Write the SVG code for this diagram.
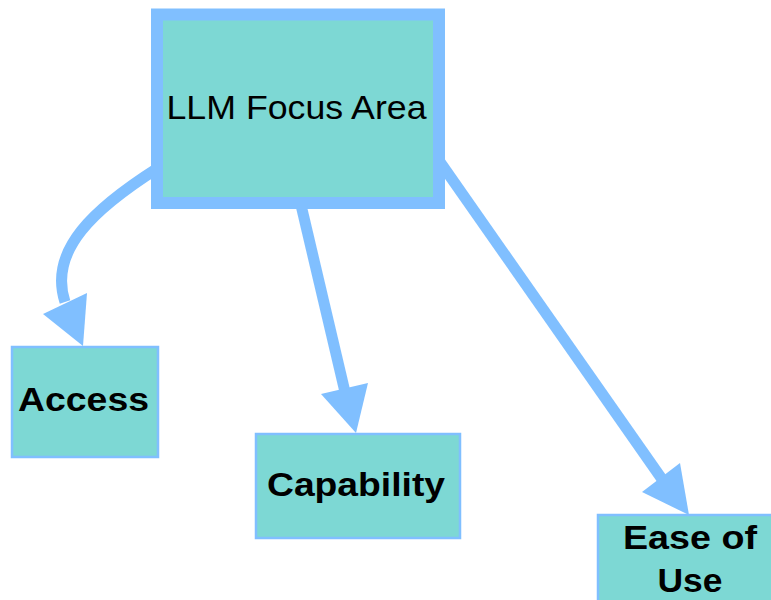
<svg xmlns="http://www.w3.org/2000/svg" width="771" height="600" viewBox="0 0 771 600">
<style>
.box{fill:#7dd8d4;stroke:#80bfff}
.edge{fill:none;stroke:#80bfff;stroke-width:11}
.head{fill:#80bfff;stroke:none}
.t{font-family:"Liberation Sans",Arial,sans-serif;fill:#000;text-anchor:middle;font-size:34px}
.b{font-weight:bold}
</style>
<rect width="771" height="600" fill="#fff"/>
<g id="connectors">
<path class="edge" d="M158,168 C95,208 48,250 65,302"/>
<polygon class="head" points="43,314 87,293 83,346"/>
<path class="edge" d="M301,205 L345,392"/>
<polygon class="head" points="321,394 368,383 356,433"/>
<path class="edge" d="M440,162 L664,482"/>
<polygon class="head" points="642,492 680,463 689,515"/>
</g>
<g id="llm">
<rect class="box" x="157" y="14.5" width="282" height="188.5" stroke-width="12"/>
<text class="t" x="296.5" y="119" textLength="260" lengthAdjust="spacingAndGlyphs">LLM Focus Area</text>
</g>
<g id="access">
<rect class="box" x="12" y="347" width="146" height="110" stroke-width="2.5"/>
<text class="t b" x="83.5" y="411" textLength="131" lengthAdjust="spacingAndGlyphs">Access</text>
</g>
<g id="capability">
<rect class="box" x="256" y="434" width="204" height="104" stroke-width="2.5"/>
<text class="t b" x="356" y="496" textLength="178" lengthAdjust="spacingAndGlyphs">Capability</text>
</g>
<g id="ease">
<rect class="box" x="598" y="515" width="186" height="110" stroke-width="2.5"/>
<text class="t b" x="690" y="549" textLength="134" lengthAdjust="spacingAndGlyphs">Ease of</text>
<text class="t b" x="690" y="592" textLength="65" lengthAdjust="spacingAndGlyphs">Use</text>
</g>
</svg>
